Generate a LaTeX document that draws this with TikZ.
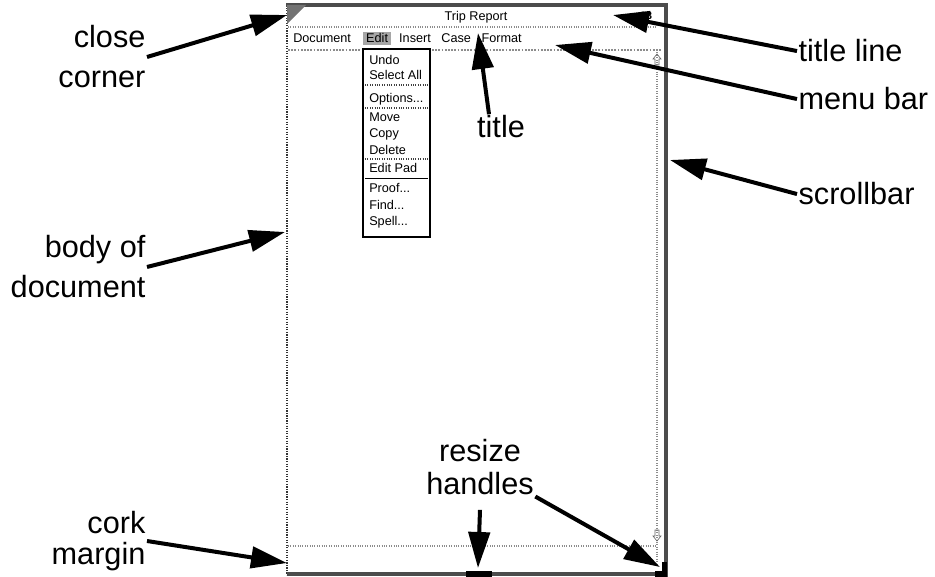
\documentclass[tikz,border=0pt]{standalone}
\usepackage{fontspec}
\setmainfont{Liberation Sans}
\usetikzlibrary{arrows.meta,positioning}

\begin{document}
\begin{tikzpicture}[x=0.75pt,y=-0.75pt,
    lbl/.style={font=\fontsize{23}{30}\selectfont,inner sep=1pt},
    ptr/.style={-{Triangle[length=27pt,width=16pt]},line width=3pt},
    frame/.style={black!70,line width=2.6pt},
    rule/.style={black!45,densely dotted,line width=0.8pt},
    ui/.style={font=\fontsize{9.5}{11}\selectfont,inner sep=0pt},
    item/.style={ui,anchor=west},
    node distance=8pt]
  \useasboundingbox (0,0) rectangle (935,577);
  % window
  \draw[black!80,densely dotted,line width=0.9pt] (287,5) -- (287,575);
  \draw[frame] (286,5) -- (666,5) -- (666,577);
  \draw[frame] (287,574) -- (666,574);
  \fill[black!55] (287,5) -- (306,5) -- (287,24) -- cycle;
  \node(trip)[ui] at (476,17) {Trip Report};
  \node(icon)[ui,font=\fontsize{8}{8}\selectfont\bfseries] at (646,16) {88};
  \draw[rule] (288,27) -- (657,27);
  % menu bar
  \fill[black!35] (363,32) rectangle (391,45);
  \node(mdoc)[ui,anchor=base west] at (293,43) {Document};
  \node(medit)[ui,base right=11pt of mdoc] {Edit};
  \node(mins)[ui,base right=8pt of medit] {Insert};
  \node(mcase)[ui,base right=7.5pt of mins] {Case};
  \node(mfmt)[ui,base right=7.5pt of mcase] {Format};
  \draw[rule,line width=1.4pt] (288,50) -- (662,50);
  % edit menu
  \draw[black,line width=0.8pt,fill=white] (363,49) rectangle (430,237);
  \node(undo)[item] at (369,60) {Undo};
  \node(selall)[item] at (369,75) {Select All};
  \node(opts)[item] at (369,99) {Options...};
  \node(move)[item] at (369,117) {Move};
  \node(copy)[item] at (369,134) {Copy};
  \node(del)[item] at (369,150) {Delete};
  \node(pad)[item] at (369,168) {Edit Pad};
  \node(proof)[item] at (369,188) {Proof...};
  \node(find)[item] at (369,205) {Find...};
  \node(spell)[item] at (369,222) {Spell...};
  \draw[rule,black!75] (365,85) -- (428,85);
  \draw[rule,black!75] (365,108) -- (428,108);
  \draw[rule,black!75] (365,159) -- (428,159);
  \draw[black,line width=0.7pt] (365,178) -- (428,178);
  % scrollbar and cork margin
  \draw[rule] (657,50) -- (657,566);
  \draw[black!60,line width=0.5pt] (657,54) -- (661,59) -- (659,59) -- (659,65) -- (655,65) -- (655,59) -- (653,59) -- cycle;
  \draw[black!60,line width=0.5pt] (657,541) -- (661,536) -- (659,536) -- (659,530) -- (655,530) -- (655,536) -- (653,536) -- cycle;
  \draw[rule] (288,546) -- (657,546);
  % resize handles
  \fill (466,571) rectangle (492,577);
  \fill (655,571) rectangle (667,577);
  \fill (662,562) rectangle (667,577);
  % labels
  \node(cc)[lbl,align=right,anchor=east] at (147,57) {close\\corner};
  \node(bd)[lbl,align=right,anchor=east] at (147,267) {body of\\document};
  \node(cm)[lbl,align=right,anchor=east] at (147,541) {cork\\[-7pt]margin};
  \node(tl)[lbl,anchor=base west] at (797,62) {title line};
  \node(mb)[lbl,anchor=base west] at (797,110) {menu bar};
  \node(sb)[lbl,anchor=base west] at (797,205) {scrollbar};
  \node(tt)[lbl,anchor=base] at (501,138) {title};
  \node(rh)[lbl,align=center] at (480,467) {resize\\[-5pt]handles};
  % targets
  \coordinate (closept) at (287,15);
  \coordinate (titlept) at (613,15);
  \coordinate (menupt) at (555,45);
  \coordinate (scrollpt) at (670,160);
  \coordinate (namept) at (478,33);
  \coordinate (bodypt) at (285,232);
  \coordinate (corkpt) at (287,563);
  \coordinate (midgrip) at (478,568);
  \coordinate (cornergrip) at (660,567);
  \draw[ptr] (cc.east) -- (closept);
  \draw[ptr] (tl.west) -- (titlept);
  \draw[ptr] (mb.west) -- (menupt);
  \draw[ptr] (sb.west) -- (scrollpt);
  \draw[ptr] ([xshift=-9pt]tt.north) -- (namept);
  \draw[ptr] (bd.east) -- (bodypt);
  \draw[ptr] (cm.east) -- (corkpt);
  \draw[ptr] ([yshift=-10pt]rh.south) -- (midgrip);
  \draw[ptr] (rh.south east) -- (cornergrip);
\end{tikzpicture}
\end{document}
